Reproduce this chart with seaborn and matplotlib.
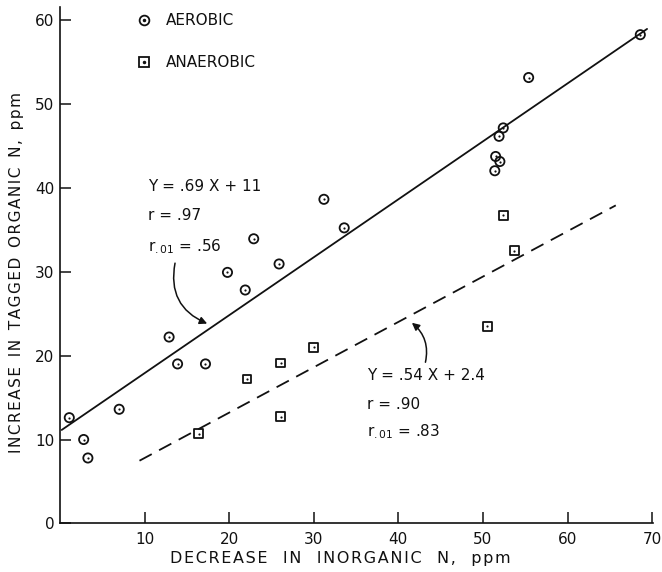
import numpy as np
import pandas as pd
import matplotlib
matplotlib.use("Agg")
import matplotlib.pyplot as plt
import seaborn as sns
from matplotlib.lines import Line2D
from matplotlib.legend_handler import HandlerTuple

# ---- data ----
aerobic_x = [1.1, 2.8, 3.3, 7.0, 12.9, 13.9, 17.2, 21.9, 19.8, 22.9, 25.9,
             31.2, 33.6, 55.4, 52.4, 51.9, 51.5, 52.0, 51.4, 68.6]
aerobic_y = [12.6, 10.0, 7.8, 13.6, 22.2, 19.0, 19.0, 27.8, 29.9, 33.9, 30.9,
             38.6, 35.2, 53.1, 47.1, 46.1, 43.7, 43.1, 42.0, 58.2]
anaerobic_x = [16.4, 22.1, 26.1, 26.1, 30.0, 52.4, 53.7, 50.5]
anaerobic_y = [10.7, 17.2, 19.1, 12.7, 21.0, 36.7, 32.5, 23.5]

aerobic_fit = (0.69, 11.0)      # slope, intercept
aerobic_fit_x = [0.2, 69.4]
anaerobic_fit = (0.54, 2.4)
anaerobic_fit_x = [9.4, 65.7]

x_ticks = [10, 20, 30, 40, 50, 60, 70]
y_ticks = [0, 10, 20, 30, 40, 50, 60]
series_labels = ["AEROBIC", "ANAEROBIC"]
x_label_words = ["DECREASE", "IN", "INORGANIC", "N,", "ppm"]
y_label_words = ["INCREASE", "IN", "TAGGED", "ORGANIC", "N,", "ppm"]
aerobic_text = ["Y = .69 X + 11", "r = .97", "r$_{.01}$ = .56"]
anaerobic_text = ["Y = .54 X + 2.4", "r = .90", "r$_{.01}$ = .83"]


def spaced(words, word_gap):
    """Letter-spaced lettering like the hand-drawn original."""
    return word_gap.join("\u200a".join(w) for w in words)


# ---- style ----
sns.set_theme(style="ticks")
plt.rcParams["font.family"] = ["DejaVu Sans"]
plt.rcParams["mathtext.fontset"] = "dejavusans"
plt.rcParams["lines.scale_dashes"] = False
INK = "#111111"
FS = 11

fig = plt.figure(figsize=(6.62, 5.72), dpi=100)
ax = fig.add_axes([0.0906, 0.0848, 0.8958, 0.903])

df_a = pd.DataFrame({"x": aerobic_x, "y": aerobic_y})
df_n = pd.DataFrame({"x": anaerobic_x, "y": anaerobic_y})

# regression lines
fa = np.array(aerobic_fit_x)
fn = np.array(anaerobic_fit_x)
sns.lineplot(x=fa, y=aerobic_fit[0] * fa + aerobic_fit[1], ax=ax,
             color=INK, linewidth=1.3)
sns.lineplot(x=fn, y=anaerobic_fit[0] * fn + anaerobic_fit[1], ax=ax,
             color=INK, linewidth=1.3, dashes=False)
ax.lines[-1].set_dashes((10, 6))

# markers (hollow with centre dot)
sns.scatterplot(data=df_a, x="x", y="y", marker="o", s=44, ax=ax,
                edgecolor=INK, linewidth=1.3, zorder=3)
ax.collections[-1].set_facecolor("none")
sns.scatterplot(data=df_n, x="x", y="y", marker="s", s=40, ax=ax,
                edgecolor=INK, linewidth=1.3, zorder=3)
ax.collections[-1].set_facecolor("none")
sns.scatterplot(data=df_a, x="x", y="y", marker="o", s=2.5, ax=ax,
                color=INK, linewidth=0, zorder=4)
sns.scatterplot(data=df_n, x="x", y="y", marker="o", s=2.5, ax=ax,
                color=INK, linewidth=0, zorder=4)

# axes
ax.set_xlim(0, 70.1)
ax.set_ylim(0, 61.5)
ax.set_xticks(x_ticks)
ax.set_yticks(y_ticks)
ax.tick_params(axis="both", direction="in", length=8, width=1.1,
               colors=INK, labelsize=FS)
ax.tick_params(axis="y", pad=4)
ax.tick_params(axis="x", pad=6)
sns.despine(ax=ax)
for s in ("left", "bottom"):
    ax.spines[s].set_linewidth(1.2)
    ax.spines[s].set_color(INK)
ax.set_xlabel(spaced(x_label_words, "   "), fontsize=11.5, color=INK)
ax.set_ylabel(spaced(y_label_words, "  "), fontsize=FS, color=INK)
ax.xaxis.set_label_coords(0.472, -0.053)
ax.yaxis.set_label_coords(-0.061, 0.485)

# legend
h_a = (Line2D([], [], marker="o", ls="none", mfc="none", mec=INK, ms=7, mew=1.3),
       Line2D([], [], marker="o", ls="none", color=INK, ms=1.5))
h_n = (Line2D([], [], marker="s", ls="none", mfc="none", mec=INK, ms=6.5, mew=1.3),
       Line2D([], [], marker="o", ls="none", color=INK, ms=1.5))
ax.legend([h_a, h_n], series_labels, handler_map={tuple: HandlerTuple(ndivide=1)},
          frameon=False, loc="upper left", bbox_to_anchor=(0.105, 1.014),
          fontsize=FS, labelspacing=1.75, handlelength=1.0, handletextpad=0.94,
          labelcolor=INK)

# annotations
for i, t in enumerate(aerobic_text):
    ax.text(10.4, [40.1, 36.7, 33.0][i], t, fontsize=FS, color=INK, va="center")
for i, t in enumerate(anaerobic_text):
    ax.text(36.3, [17.6, 14.2, 10.9][i], t, fontsize=FS, color=INK, va="center")

arrow = dict(arrowstyle="-|>", color=INK, lw=1.1, shrinkA=0, shrinkB=0,
             mutation_scale=11)
ax.annotate("", xy=(17.4, 23.8), xytext=(13.6, 31.0),
            arrowprops=dict(arrow, connectionstyle="arc3,rad=0.4"))
ax.annotate("", xy=(41.6, 23.9), xytext=(43.2, 19.2),
            arrowprops=dict(arrow, connectionstyle="arc3,rad=0.3"))

fig.savefig("out.png", dpi=100)
